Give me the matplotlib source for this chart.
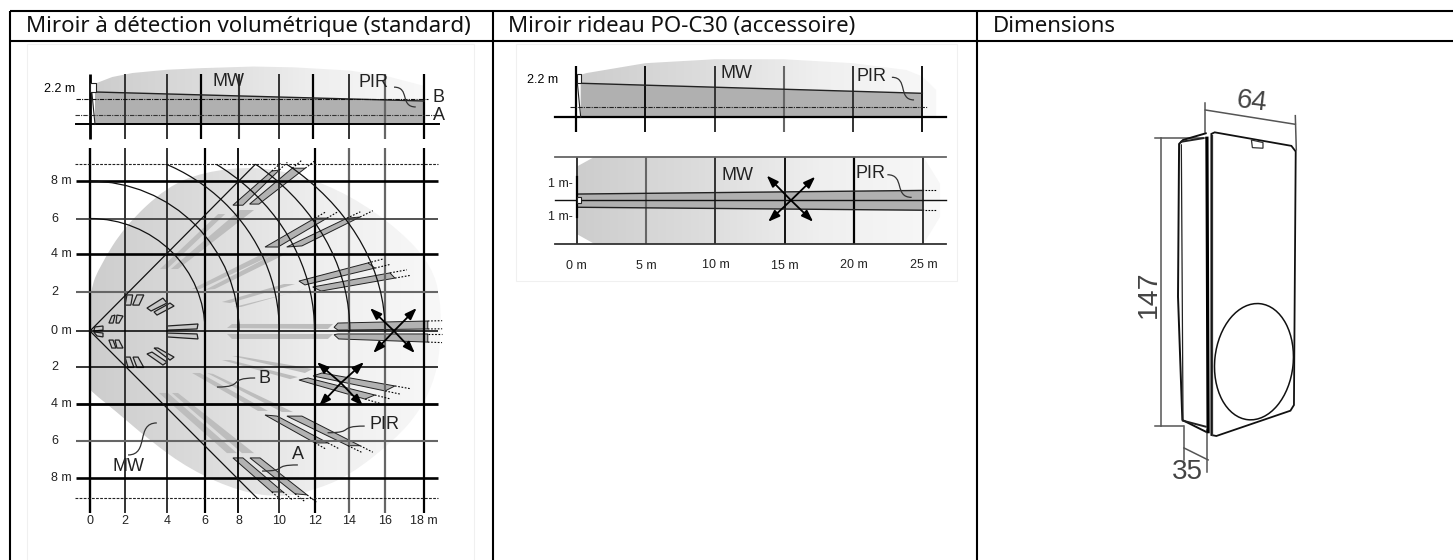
#!/usr/bin/env python3
"""Zones de detection (miroir volumetrique, miroir rideau) et dimensions."""

import numpy as np
import matplotlib
matplotlib.use("Agg")
import matplotlib.pyplot as plt
from matplotlib.colors import LinearSegmentedColormap
from matplotlib.patches import Arc, Ellipse, PathPatch, Polygon, Rectangle
from matplotlib.path import Path

W, H = 1453, 560

# --- tableau ---
COLUMNS = [10, 493, 977]
HEADERS = ["Miroir à détection volumétrique (standard)",
           "Miroir rideau PO-C30 (accessoire)",
           "Dimensions"]

# --- miroir volumetrique, metres ---
GRID_X_SIDE = [0, 1.89, 4.15, 5.98, 8.03, 10.18, 12.02, 13.94, 15.9, 18]
GRID_X_PLAN = [0, 1.89, 4.15, 6.17, 8.0, 10.18, 12.12, 13.95, 15.9, 18]
GRID_Y_PLAN = [8.1, 6.08, 4.16, 2.11, 0, -1.95, -3.95, -5.97, -7.95]
X_LABELS = ["0", "2", "4", "6", "8", "10", "12", "14", "16", "18 m"]
Y_LABELS = ["8 m", "6", "4 m", "2", "0 m", "2", "4 m", "6", "8 m"]

SIDE_MW = [(0.3, 2.55), (1.2, 2.95), (2.3, 3.2), (4.15, 3.4), (6, 3.5), (8.8, 3.6),
           (11, 3.55), (14, 3.35), (16, 3.0), (18, 2.4), (18.1, 0), (0.3, 0)]
SIDE_BEAM = [(0.27, 2.02), (18, 1.46), (18, 0), (0.27, 0)]
SIDE_LEVELS = {"A": 0.59, "B": 1.6}

PLAN_MW = [(0, 0), (0, 2.2), (0.55, 3.55), (1.9, 5.7), (4.15, 7.8), (6.15, 8.6), (8.8, 8.9),
           (11.3, 8.45), (14, 7.35), (16.7, 5.45), (18.4, 3.55), (18.9, 1.7),
           (18.9, -0.5), (18.65, -2.4), (17.8, -4.3), (16.4, -5.9), (14, -7.8),
           (12.1, -8.6), (10.4, -9), (8.1, -8.7), (5.4, -7.5), (3.2, -5.9),
           (1.35, -4.3), (0.1, -3.3), (0, -3.1)]

ARC_RX = [6.2, 8.03, 10.2, 12.1, 14, 15.9]
ARC_RY = [6.08, 8.1, 9.85, 10.9, 11.7, 12.1]
DASH_Y = [9.0, -9.03]

# zones PIR longues, rideau A (contour noir)
FINGERS_A = [
    [(7.7, 6.8), (8.24, 6.8), (10.2, 8.7), (9.8, 8.65)],
    [(8.6, 6.86), (9.1, 6.86), (11.6, 8.8), (10.9, 8.8)],
    [(9.43, 4.54), (10.13, 4.54), (12.77, 6.1), (12.12, 6.1)],
    [(10.6, 4.54), (11.42, 4.6), (14.55, 6.16), (13.85, 6.1)],
    [(11.26, 2.7), (11.58, 2.49), (15.35, 3.4), (14.98, 3.68)],
    [(12, 2.38), (12.45, 2.16), (16.43, 2.86), (16.16, 3.14)],
    [(13.15, 0.2), (13.36, 0.05), (18.2, 0.11), (18.2, 0.54), (13.36, 0.43)],
    [(13.15, -0.2), (13.4, -0.43), (18.2, -0.6), (18.2, -0.16), (13.36, -0.16)],
    [(12.02, -2.43), (12.5, -2.27), (16.43, -2.97), (15.9, -3.24)],
    [(11.26, -2.65), (11.75, -2.54), (15.35, -3.46), (14.82, -3.68)],
    [(9.43, -4.54), (10.08, -4.6), (12.82, -6.05), (12.12, -6.05)],
    [(10.61, -4.6), (11.42, -4.6), (14.55, -6.2), (13.9, -6.2)],
    [(7.7, -6.86), (8.24, -6.86), (10.4, -8.7), (9.8, -8.7)],
    [(8.62, -6.86), (9.16, -6.86), (11.7, -8.86), (11.05, -8.8)],
]

# zones PIR, rideau B (sans contour)
FINGERS_B = [
    [(3.77, 3.35), (4.15, 3.35), (7.28, 6.32), (6.9, 6.32)],
    [(4.36, 3.35), (4.74, 3.35), (8.84, 6.54), (8.08, 6.54)],
    [(5.5, 2.27), (5.93, 2.27), (9.7, 4.05), (9.05, 4.05)],
    [(6.2, 2.22), (6.73, 2.27), (10.67, 4.22), (9.8, 4.1)],
    [(7.11, 1.57), (7.54, 1.51), (11.05, 2.54), (10.45, 2.54)],
    [(7.76, 1.3), (8.14, 1.3), (12.0, 2.4), (11.0, 2.1)],
    [(7.38, 0.16), (7.65, 0.38), (13.1, 0.38), (12.82, 0.11)],
    [(7.38, -0.16), (7.65, -0.43), (12.82, -0.43), (13.1, -0.16)],
    [(7.65, -1.35), (7.97, -1.35), (12.0, -2.05), (11.58, -2.27)],
    [(7.11, -1.57), (7.54, -1.57), (11.2, -2.49), (10.78, -2.6)],
    [(5.5, -2.27), (5.93, -2.27), (9.59, -4.32), (9.05, -4.32)],
    [(6.3, -2.27), (6.63, -2.32), (10.94, -4.38), (10.34, -4.38)],
    [(3.72, -3.35), (4.2, -3.35), (7.92, -6.6), (7.38, -6.6)],
    [(4.42, -3.35), (4.74, -3.35), (8.84, -6.6), (8.19, -6.6)],
]

# zones proches du detecteur
NEAR_ZONES = [
    [(0.27, 0.22), (0.7, 0.27), (0.7, 0.05), (0.2, 0)],
    [(0.2, -0.05), (0.7, -0.11), (0.7, -0.32), (0.38, -0.27)],
    [(1.18, 0.81), (1.35, 0.86), (1.24, 0.43), (1.02, 0.43)],
    [(1.45, 0.86), (1.78, 0.81), (1.56, 0.43), (1.4, 0.43)],
    [(1.02, -0.49), (1.24, -0.49), (1.4, -0.92), (1.18, -0.92)],
    [(1.35, -0.49), (1.56, -0.49), (1.78, -0.92), (1.45, -0.92)],
    [(1.99, 1.95), (2.3, 1.95), (2.2, 1.4), (1.89, 1.4)],
    [(2.53, 1.95), (2.9, 1.95), (2.64, 1.4), (2.3, 1.4)],
    [(1.89, -1.41), (2.16, -1.41), (2.37, -1.97), (2.05, -1.97)],
    [(2.32, -1.41), (2.59, -1.41), (2.9, -1.97), (2.53, -1.97)],
    [(3.07, 1.24), (3.93, 1.78), (4.15, 1.51), (3.29, 1.08)],
    [(3.45, 1.03), (4.31, 1.51), (4.53, 1.35), (3.61, 0.86)],
    [(3.45, -0.92), (3.66, -0.92), (4.53, -1.41), (4.31, -1.57)],
    [(3.07, -1.24), (3.34, -1.14), (4.15, -1.68), (3.93, -1.84)],
    [(4.15, 0.27), (5.82, 0.38), (5.77, 0.11), (4.15, 0.05)],
    [(4.15, -0.11), (5.77, -0.16), (5.82, -0.43), (4.15, -0.32)],
]

CROSS_1 = [(16.38, 0), (15.09, 1.24), (17.6, 1.24), (15.26, -1.19), (17.5, -1.19)]
CROSS_2 = [(13.52, -2.81), (12.23, -1.68), (14.76, -1.68), (12.34, -4.05), (14.71, -4.05)]

# --- miroir rideau, metres ---
CURTAIN_X = [0, 5, 10, 15, 20, 25]
CURTAIN_LABELS = ["0 m", "5 m", "10 m", "15 m", "20 m", "25 m"]
CURTAIN_SIDE_MW = [(0.34, 2.5), (0.77, 2.6), (5, 3.18), (10, 3.41), (15, 3.41), (20, 3.18),
                   (23.85, 2.78), (25, 2.4), (26, 1.6), (26, 0), (0.34, 0)]
CURTAIN_SIDE_BEAM = [(0.34, 2.0), (25, 1.41), (25, 0), (0.34, 0)]
CURTAIN_PLAN_MW = [(0, 2.04), (1.3, 2.64), (25, 2.64), (26.2, 1), (26.2, -1), (25, -2.65),
                   (1.3, -2.65), (0, -2.04)]
CURTAIN_BEAM = [(0, 0.38), (25, 0.6), (25, -0.6), (0, -0.42)]
CROSS_3 = [(15.45, 0), (13.7, 1.5), (17.2, 1.43), (13.8, -1.3), (17.05, -1.3)]

# --- boitier, mm ---
BODY_FRONT = [(14.46, 149), (16.16, 149.8), (55.3, 142.9), (57.5, 140), (56.6, 10.7),
              (54.8, 7.8), (17, -5.1), (14.46, -4.6)]
BODY_SIDE = [(11.6, 149.3), (0, 145.9), (-2, 143.9), (-2.55, 66), (-0.34, 3.06), (11.6, -2.9)]
BODY_TAB = [(34.9, 145.9), (40.8, 144.6), (40.8, 141.7), (35.4, 142)]

LINE_BLACK = "#000000"
LINE_DARK = "#333333"
LINE_GREY = "#666666"
FINGER_A = "#b2b2b2"
FINGER_B = "#bdbdbd"
BEAM = "#b0b0b0"
MW_CMAP = LinearSegmentedColormap.from_list("mw", ["#cdcdcd", "#dcdcdc", "#efefef", "#f8f8f8"])

SIDE_STYLE = [(LINE_BLACK, 2.0), (LINE_DARK, 1.4), (LINE_DARK, 1.4), (LINE_BLACK, 1.6), (LINE_DARK, 1.5),
              (LINE_DARK, 1.4), (LINE_BLACK, 1.6), (LINE_DARK, 1.4), (LINE_GREY, 1.6), (LINE_BLACK, 1.6)]
PLAN_V_STYLE = [(LINE_BLACK, 1.7), (LINE_DARK, 1.4), (LINE_DARK, 1.4), (LINE_BLACK, 1.6), (LINE_BLACK, 1.3),
                (LINE_DARK, 1.4), (LINE_BLACK, 1.6), (LINE_GREY, 1.6), (LINE_GREY, 1.6), (LINE_BLACK, 1.6)]
PLAN_H_STYLE = [(LINE_BLACK, 1.9), (LINE_DARK, 1.2), (LINE_BLACK, 1.9), (LINE_GREY, 1.5), (LINE_BLACK, 1.1),
                (LINE_BLACK, 1.1), (LINE_BLACK, 2.0), (LINE_GREY, 1.5), (LINE_BLACK, 1.9)]
CURTAIN_STYLE = [(LINE_BLACK, 1.6), (LINE_BLACK, 1.3), (LINE_DARK, 1.4), (LINE_GREY, 1.5), (LINE_DARK, 1.4),
                 (LINE_BLACK, 1.3)]

plt.rcParams["font.family"] = ["Liberation Sans", "DejaVu Sans"]

fig = plt.figure(figsize=(W / 100, H / 100), dpi=100)


def panel(left, top, right, bottom, xlim, ylim):
    """Axes placees en pixels de l'image."""
    ax = fig.add_axes([left / W, 1 - bottom / H, (right - left) / W, (bottom - top) / H])
    ax.set_xlim(xlim)
    ax.set_ylim(ylim)
    ax.axis("off")
    return ax


def smooth_path(points):
    """Contour ferme arrondi: les points servent de controle, courbes quadratiques."""
    pts = np.array(points, dtype=float)
    mids = (pts + np.roll(pts, -1, axis=0)) / 2
    verts = [mids[-1]]
    codes = [Path.MOVETO]
    for p, m in zip(pts, mids):
        verts += [p, m]
        codes += [Path.CURVE3, Path.CURVE3]
    return Path(verts, codes)


def gradient_fill(ax, points, zorder=1, smooth=False):
    """Zone MW: degrade horizontal clippe sur le contour."""
    xs = [p[0] for p in points]
    ys = [p[1] for p in points]
    xlim, ylim = ax.get_xlim(), ax.get_ylim()
    img = ax.imshow(np.linspace(0, 1, 256)[None, :], cmap=MW_CMAP, aspect="auto", zorder=zorder,
                    extent=[min(xs), max(xs), min(ys), max(ys)], interpolation="bilinear")
    if smooth:
        patch = PathPatch(smooth_path(points), transform=ax.transData, fc="none", ec="none")
    else:
        patch = Polygon(points, closed=True, transform=ax.transData, fc="none", ec="none")
    ax.add_patch(patch)
    img.set_clip_path(patch)
    ax.set_xlim(xlim)
    ax.set_ylim(ylim)


def squiggle(ax, start, end):
    """Trait de renvoi en S entre un libelle et sa zone."""
    (x0, y0), (x1, y1) = start, end
    verts = [start, (x0 + 0.75 * (x1 - x0), y0), (x0 + 0.25 * (x1 - x0), y1), end]
    codes = [Path.MOVETO, Path.CURVE4, Path.CURVE4, Path.CURVE4]
    ax.add_patch(PathPatch(Path(verts, codes), fc="none", ec=LINE_DARK, lw=0.9, zorder=6))


def cross_arrows(ax, pts):
    center = pts[0]
    for end in pts[1:]:
        ax.annotate("", xy=end, xytext=center, zorder=8,
                    arrowprops=dict(arrowstyle="-|>,head_length=0.7,head_width=0.25", color="black",
                                    lw=1.3, shrinkA=0, shrinkB=0))


def dotted_tail(ax, p_from, p_to, frac):
    """Prolongement pointille d'un rideau."""
    x = [p_to[0], p_to[0] + frac * (p_to[0] - p_from[0])]
    y = [p_to[1], p_to[1] + frac * (p_to[1] - p_from[1])]
    ax.plot(x, y, color="black", lw=0.8, ls=(0, (1.5, 1.5)), zorder=5)


def grid_v(ax, xs, styles, y0, y1, zorder=4):
    for x, (col, lw) in zip(xs, styles):
        ax.plot([x, x], [y0, y1], color=col, lw=lw, zorder=zorder, solid_capstyle="butt")


# cadre du tableau, en pixels
frame = panel(0, 0, W, H, (0, W), (H, 0))
frame.plot([10, W], [11, 11], color="black", lw=1.5, solid_capstyle="butt")
frame.plot([10, W], [41, 41], color="black", lw=1.5, solid_capstyle="butt")
for x, label in zip(COLUMNS, HEADERS):
    frame.plot([x, x], [11, H], color="black", lw=1.5, solid_capstyle="butt")
    frame.text(x + 15.5, 26.5, label, family="Noto Sans", fontsize=16, color="#111111", ha="left", va="center")
frame.add_patch(Rectangle((27, 44), 447, 530, fc="white", ec="#f0f0f0", lw=0.8))
frame.add_patch(Rectangle((516, 44), 441, 237, fc="white", ec="#f0f0f0", lw=0.8))

# --- volumetrique, vue de cote ---
ax = panel(27, 50, 474, 142, (-3.394, 20.69), (-1.087, 4.627))
gradient_fill(ax, SIDE_MW)
ax.add_patch(Polygon(SIDE_BEAM, closed=True, fc=BEAM, ec="none", zorder=2))
ax.plot([p[0] for p in SIDE_BEAM[:2]], [p[1] for p in SIDE_BEAM[:2]], color="#222222", lw=1.0, zorder=5)
grid_v(ax, GRID_X_SIDE, SIDE_STYLE, -0.9, 3.14)
ax.plot([-0.75, 18.8], [0, 0], color="black", lw=1.4, zorder=5)
ax.plot([-0.8, 18.6], [SIDE_LEVELS["A"]] * 2, color="#333333", lw=0.8, ls=(0, (4, 1, 1, 1)), zorder=5)
ax.plot([-0.75, 18.2], [SIDE_LEVELS["B"]] * 2, color="#111111", lw=0.8, ls=(0, (4, 1, 1, 1)), zorder=5)
ax.plot([0.1, 0.27], [2.0, 0], color="#222222", lw=0.8, zorder=5)
ax.add_patch(Rectangle((0, 2.0), 0.3, 0.55, fc="white", ec="#222222", lw=0.8, zorder=7))
ax.text(-0.81, 2.2, "2.2 m", fontsize=9, ha="right", va="center")
ax.text(7.44, 2.7, "MW", fontsize=13, ha="center", va="center", color="#222222", zorder=7)
ax.text(15.25, 2.58, "PIR", fontsize=13, ha="center", va="center", color="#222222", zorder=7)
ax.text(18.8, 1.67, "B", fontsize=13, ha="center", va="center", color="#222222")
ax.text(18.8, 0.55, "A", fontsize=13, ha="center", va="center", color="#222222")
squiggle(ax, (16.38, 2.32), (17.55, 1.09))

# --- volumetrique, vue de dessus ---
ax = panel(27, 144, 474, 540, (-3.394, 20.69), (-11.297, 10.108))
gradient_fill(ax, PLAN_MW, smooth=True)
for f in FINGERS_B:
    ax.add_patch(Polygon(f, closed=True, fc=FINGER_B, ec="none", zorder=2))
for f in FINGERS_A:
    ax.add_patch(Polygon(f, closed=True, fc=FINGER_A, ec="#222222", lw=0.7, zorder=3))
    if len(f) == 4:
        dotted_tail(ax, f[1], f[2], 0.22)
        dotted_tail(ax, f[0], f[3], 0.22)
    else:
        dotted_tail(ax, f[1], f[2], 0.16)
        dotted_tail(ax, f[4], f[3], 0.16)
for z in NEAR_ZONES:
    ax.add_patch(Polygon(z, closed=True, fc="#c8c8c8", ec="#222222", lw=0.9, zorder=3))
grid_v(ax, GRID_X_PLAN, PLAN_V_STYLE, 9.9, -9.85)
for y, (col, lw) in zip(GRID_Y_PLAN, PLAN_H_STYLE):
    ax.plot([-0.75, 18.75], [y, y], color=col, lw=lw, zorder=4, solid_capstyle="butt")
for y in DASH_Y:
    ax.plot([-0.8, 18.75], [y, y], color="#222222", lw=0.8, ls=(0, (2.5, 1.2)), zorder=4)
clip = Rectangle((0, 0), 20, DASH_Y[0], transform=ax.transData)
for rx, ry in zip(ARC_RX, ARC_RY):
    arc = Arc((0, 0), 2 * rx, 2 * ry, theta1=0, theta2=90, color="#111111", lw=0.9, zorder=5)
    ax.add_patch(arc)
    arc.set_clip_path(clip)
for end in [(8.9, DASH_Y[0]), (9.0, DASH_Y[1])]:
    ax.plot([0, end[0]], [0, end[1]], color="#111111", lw=0.9, zorder=5)
cross_arrows(ax, CROSS_1)
cross_arrows(ax, CROSS_2)
for x, label in zip(GRID_X_PLAN, X_LABELS):
    ax.text(x, -10.25, label, fontsize=9, ha="center", va="center", color="#222222")
for y, label in zip(GRID_Y_PLAN, Y_LABELS):
    ax.text(-2.1, y, label, fontsize=9, ha="left", va="center", color="#222222")
ax.text(2.05, -7.33, "MW", fontsize=13, ha="center", va="center", color="#222222", zorder=7)
ax.text(9.4, -2.55, "B", fontsize=13, ha="center", va="center", color="#222222", zorder=7)
ax.text(15.85, -5.03, "PIR", fontsize=13, ha="center", va="center", color="#222222", zorder=7)
ax.text(11.2, -6.65, "A", fontsize=13, ha="center", va="center", color="#222222", zorder=7)
squiggle(ax, (8.9, -2.54), (6.84, -3.03))
squiggle(ax, (3.6, -4.97), (2.05, -6.7))
squiggle(ax, (14.8, -5.14), (12.8, -5.5))
squiggle(ax, (11.2, -7.24), (9.27, -7.57))

# --- rideau, vue de cote ---
ax = panel(516, 46, 957, 140, (-4.33, 27.5), (-1.335, 4.19))
gradient_fill(ax, CURTAIN_SIDE_MW)
ax.add_patch(Polygon(CURTAIN_SIDE_BEAM, closed=True, fc=BEAM, ec="none", zorder=2))
ax.plot([p[0] for p in CURTAIN_SIDE_BEAM[:2]], [p[1] for p in CURTAIN_SIDE_BEAM[:2]],
        color="#222222", lw=1.0, zorder=5)
grid_v(ax, CURTAIN_X, CURTAIN_STYLE, -0.85, 3.03)
ax.plot([-1.5, 26.7], [0, 0], color="black", lw=1.6, zorder=5)
ax.plot([-0.43, 25.3], [0.62, 0.62], color="#222222", lw=0.8, ls=(0, (4, 1, 1, 1)), zorder=5)
ax.plot([0.1, 0.34], [2.0, 0], color="#222222", lw=0.8, zorder=5)
ax.add_patch(Rectangle((0.05, 2.0), 0.28, 0.55, fc="white", ec="#222222", lw=0.8, zorder=7))
ax.text(-2.38, 2.2, "2.2 m", fontsize=9, ha="center", va="center")
ax.text(11.6, 2.55, "MW", fontsize=13, ha="center", va="center", color="#222222", zorder=7)
ax.text(21.3, 2.39, "PIR", fontsize=13, ha="center", va="center", color="#222222", zorder=7)
squiggle(ax, (22.8, 2.35), (24.4, 1.02))

# --- rideau, vue de dessus ---
ax = panel(516, 146, 957, 270, (-4.376, 27.42), (-4.22, 3.29))
gradient_fill(ax, CURTAIN_PLAN_MW)
ax.add_patch(Polygon(CURTAIN_BEAM, closed=True, fc=BEAM, ec="none", zorder=2))
grid_v(ax, CURTAIN_X, CURTAIN_STYLE[::-1][1:] + [(LINE_DARK, 1.4)], 2.64, -2.65)
for y in [2.64, -2.65]:
    ax.plot([-1.56, 26.6], [y, y], color=LINE_GREY if y > 0 else LINE_DARK, lw=1.3, zorder=5)
ax.plot([-1.56, 26.6], [0, 0], color="#111111", lw=1.0, zorder=5)
for p, q in [(CURTAIN_BEAM[0], CURTAIN_BEAM[1]), (CURTAIN_BEAM[3], CURTAIN_BEAM[2])]:
    ax.plot([p[0], q[0]], [p[1], q[1]], color="#222222", lw=1.0, zorder=5)
    ax.plot([q[0] + 0.1, q[0] + 1.0], [q[1], q[1]], color="black", lw=0.8, ls=(0, (1.5, 1.2)), zorder=5)
ax.plot([0, 0], [1.43, -1.0], color="black", lw=1.6, zorder=6)
ax.add_patch(Rectangle((0.03, -0.18), 0.27, 0.36, fc="white", ec="#222222", lw=0.8, zorder=7))
for y in [1.0, -1.0]:
    ax.text(-0.28, y, "1 m-", fontsize=9, ha="right", va="center", color="#222222")
cross_arrows(ax, CROSS_3)
ax.text(11.6, 1.5, "MW", fontsize=13, ha="center", va="center", color="#222222", zorder=7)
ax.text(21.2, 1.6, "PIR", fontsize=13, ha="center", va="center", color="#222222", zorder=7)
squiggle(ax, (22.4, 1.55), (24.15, 0.18))
for x, label, y in zip(CURTAIN_X, CURTAIN_LABELS, [-3.95, -4.0, -3.9, -4.0, -3.92, -3.92]):
    ax.text(x, y, label, fontsize=9, ha="center", va="center", color="#222222")

# --- boitier ---
ax = panel(1090, 60, 1370, 490, (-47.45, 95.4), (-32.65, 186.7))
ax.add_patch(Polygon(BODY_FRONT, closed=True, fc="white", ec="#111111", lw=1.3, zorder=3))
ax.plot(*zip(*BODY_SIDE), color="#111111", lw=1.4, zorder=3)
ax.plot([15, 15], [148.5, -4.6], color="#333333", lw=0.9, zorder=4)
ax.plot([12.2, 12.8], [146.8, -2.9], color="black", lw=2.3, zorder=4)
ax.plot([-0.85, 0], [143.4, 3], color="#222222", lw=0.9, zorder=4)
ax.plot([-0.85, 10.2], [145, 146.8], color="#222222", lw=1.4, zorder=4)
ax.plot([0, 11.6], [2.7, -0.34], color="#222222", lw=1.4, zorder=4)
ax.add_patch(Polygon(BODY_TAB, closed=True, fc="white", ec="#333333", lw=0.9, zorder=4))
ax.add_patch(Ellipse((36.2, 32.8), 40, 59.5, angle=-6, fc="white", ec="#111111", lw=1.1, zorder=4))

dim_col = "#555555"
dim_lines = [
    [(11.4, 164.6), (11.4, 150)], [(57.3, 158.3), (57.8, 140.8)], [(11.4, 161.2), (57.3, 153.9)],
    [(-14.5, 146.8), (11.9, 146.8)], [(-14.5, 0), (0, 0)], [(-11, 146.8), (-11, 0)],
    [(0.5, 0), (0.5, -17.3)], [(12.2, -2), (12.2, -23.3)], [(0.5, -11.2), (12.8, -17.3)],
]
for seg in dim_lines:
    ax.plot(*zip(*seg), color=dim_col, lw=1.1, zorder=2)
ax.text(35, 165.3, "64", fontsize=20, rotation=-7, ha="center", va="center", color="#444444")
ax.text(-17.2, 67.3, "147", fontsize=20.5, rotation=90, ha="center", va="center", color="#444444")
ax.text(2, -23.5, "35", fontsize=20, ha="center", va="center", color="#444444")

fig.savefig("out.png", dpi=100, facecolor="white")
